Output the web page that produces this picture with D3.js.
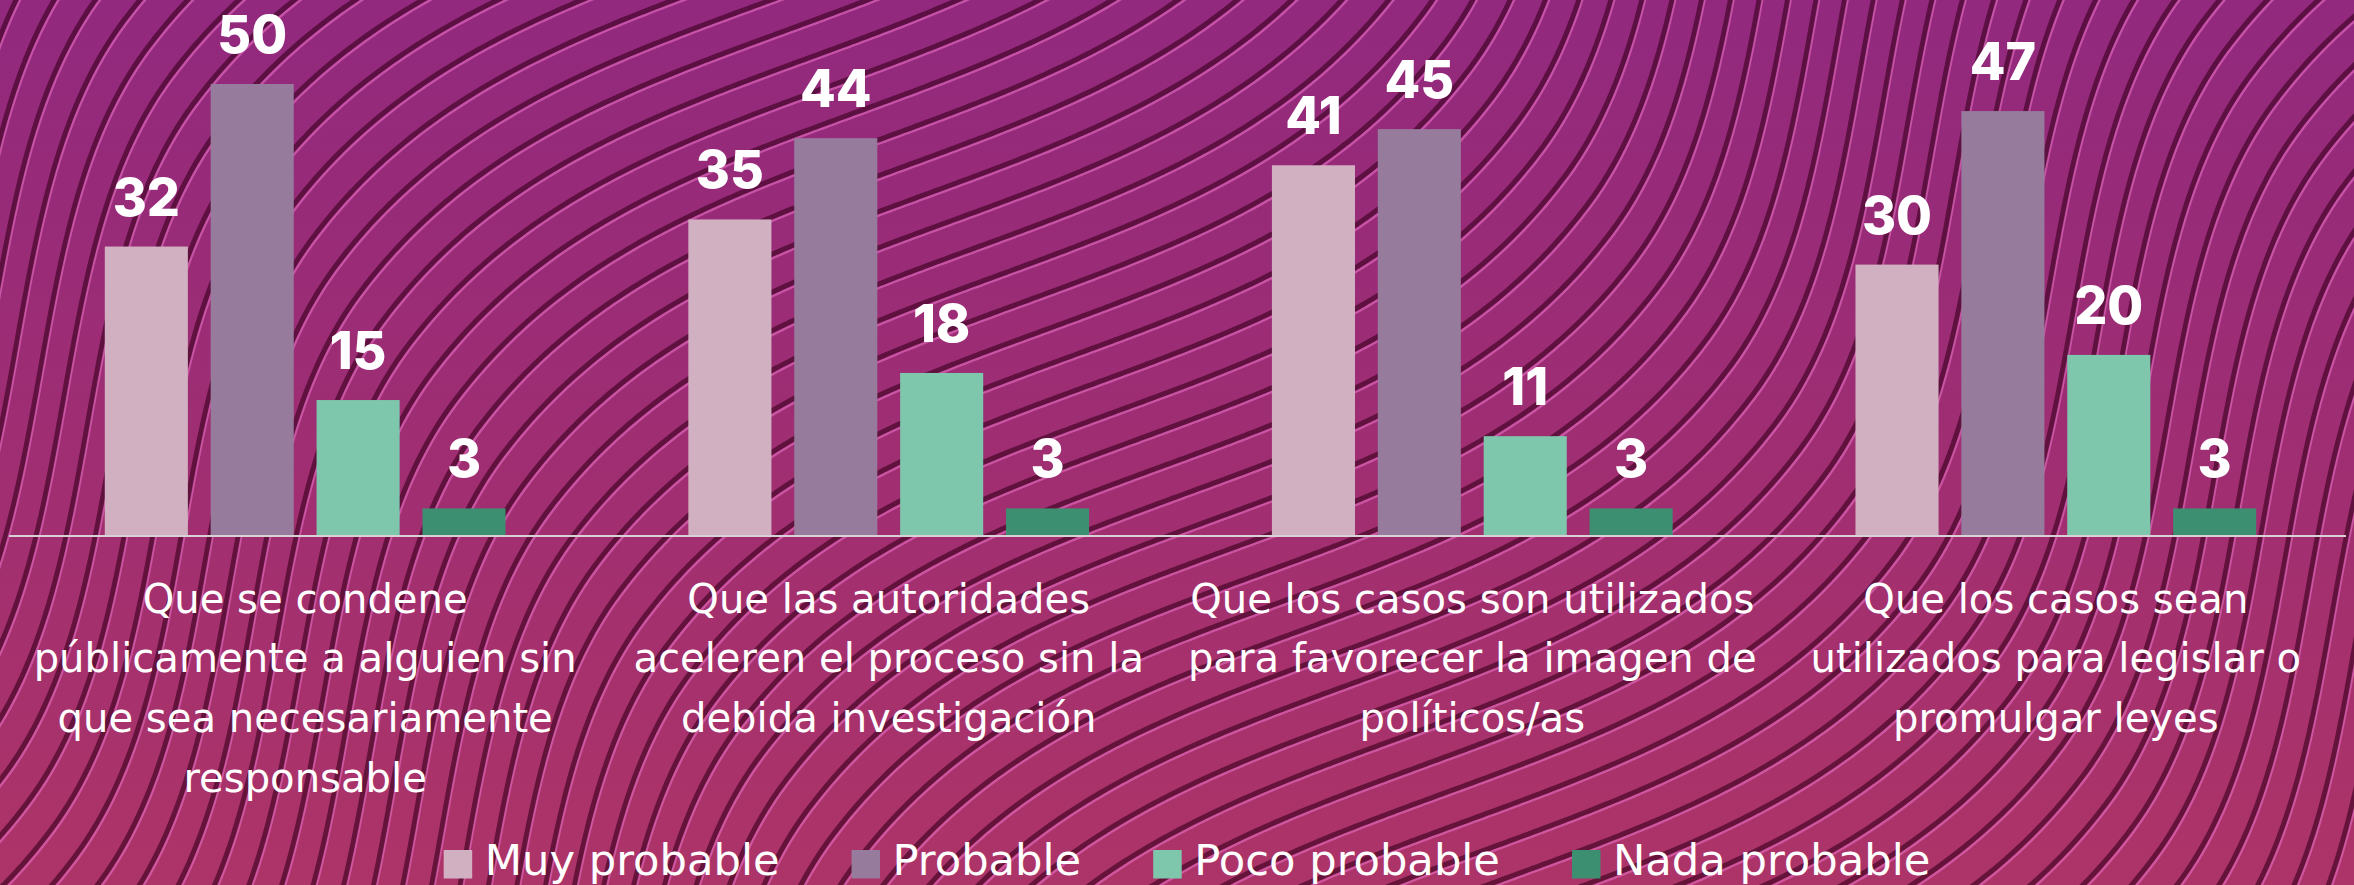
<!DOCTYPE html>
<html>
<head>
<meta charset="utf-8">
<script src="https://cdn.jsdelivr.net/npm/d3@7"></script>
<style>
  html, body { margin: 0; padding: 0; background: #9e2d73; overflow: hidden; }
  svg { display: block; }
</style>
</head>
<body>
<svg id="chart" width="2354" height="885"></svg>
<script>
// ---------------- data ----------------
const categories = [
  "Que se condene públicamente a alguien sin que sea necesariamente responsable",
  "Que las autoridades aceleren el proceso sin la debida investigación",
  "Que los casos son utilizados para favorecer la imagen de políticos/as",
  "Que los casos sean utilizados para legislar o promulgar leyes"
];
const categoryLines = [
  ["Que se condene", "públicamente a alguien sin", "que sea necesariamente", "responsable"],
  ["Que las autoridades", "aceleren el proceso sin la", "debida investigación"],
  ["Que los casos son utilizados", "para favorecer la imagen de", "políticos/as"],
  ["Que los casos sean", "utilizados para legislar o", "promulgar leyes"]
];
const seriesNames = ["Muy probable", "Probable", "Poco probable", "Nada probable"];
const muyProbable  = [32, 35, 41, 30];
const probable     = [50, 44, 45, 47];
const pocoProbable = [15, 18, 11, 20];
const nadaProbable = [3, 3, 3, 3];
const seriesColors = ["#d1b1c1", "#977b9c", "#7ec7ad", "#3d8f72"];

const seriesValues = [muyProbable, probable, pocoProbable, nadaProbable];
const table = categories.map((c, i) => ({
  category: c,
  values: seriesNames.map((s, j) => ({ series: s, value: seriesValues[j][i] }))
}));

// ---------------- setup ----------------
const W = 2354, H = 885;
const FONT = "'DejaVu Sans', 'Noto Sans', sans-serif";
const svg = d3.select("#chart");
const defs = svg.append("defs");

const grad = defs.append("linearGradient").attr("id", "bg")
  .attr("x1", 0).attr("y1", 0).attr("x2", 0).attr("y2", 1);
grad.append("stop").attr("offset", "0%").attr("stop-color", "#92297e");
grad.append("stop").attr("offset", "55%").attr("stop-color", "#a02e71");
grad.append("stop").attr("offset", "100%").attr("stop-color", "#ad3468");
svg.append("rect").attr("width", W).attr("height", H).attr("fill", "url(#bg)");

// ---------------- decorative wavy background lines ----------------
(function drawWaves() {
  const tp = [0.756, -0.655];   // across the bands (up-right)
  const t  = [0.655, 0.756];    // along the bands (down-right)
  const period = 1571, pA = 78, pB = 1063;
  const m = -0.215, K = 0.595;
  function theta(p) {
    let r = ((p - pA) % period + period) % period;
    const shallow = pB - pA;
    if (r < shallow) return -Math.PI / 2 + Math.PI * r / shallow;
    return Math.PI / 2 + Math.PI * (r - shallow) / (period - shallow);
  }
  const pMin = -900, pMax = 2100, step = 5;
  const G = [];
  let acc = 0;
  for (let p = pMin; p <= pMax; p += step) {
    G.push([p, acc]);
    acc += (m + K * Math.cos(theta(p))) * step;
  }
  const line = d3.line().curve(d3.curveLinear);
  const gWave = svg.append("g");
  const paths = [];
  for (let c = -1400; c <= 3400; c += 36) {
    const pts = G.map(([p, g]) => {
      const q = c + g;
      return [p * tp[0] + q * t[0], p * tp[1] + q * t[1]];
    }).filter(([x, y]) => x > -80 && x < W + 80 && y > -80 && y < H + 80);
    if (pts.length > 1) paths.push(line(pts));
  }
  gWave.selectAll("path.hl").data(paths).join("path").attr("class", "hl")
    .attr("d", d => d).attr("fill", "none")
    .attr("stroke", "rgba(230,110,195,0.6)").attr("stroke-width", 2.4)
    .attr("transform", "translate(2.6,3.0)");
  gWave.selectAll("path.dk").data(paths).join("path").attr("class", "dk")
    .attr("d", d => d).attr("fill", "none")
    .attr("stroke", "rgba(58,0,30,0.62)").attr("stroke-width", 5);
})();

// ---------------- scales ----------------
const baseY = 535.5;
const x0 = d3.scaleBand().domain(categories).range([12, 2349])
  .paddingInner(0.3133).paddingOuter(0.159);
const x1 = d3.scaleBand().domain(seriesNames).range([0, x0.bandwidth()])
  .paddingInner(0.2155).paddingOuter(0);
const y = d3.scaleLinear().domain([0, 50]).range([baseY, baseY - 451.5]);
const color = d3.scaleOrdinal().domain(seriesNames).range(seriesColors);

// ---------------- bars ----------------
const groups = svg.append("g").selectAll("g").data(table).join("g")
  .attr("transform", d => `translate(${x0(d.category)},0)`);

groups.selectAll("rect").data(d => d.values).join("rect")
  .attr("x", d => x1(d.series))
  .attr("y", d => y(d.value))
  .attr("width", x1.bandwidth())
  .attr("height", d => baseY - y(d.value))
  .attr("fill", d => color(d.series));

groups.selectAll("text.val").data(d => d.values).join("text").attr("class", "val")
  .attr("x", d => x1(d.series) + x1.bandwidth() / 2)
  .attr("y", d => y(d.value) - 31)
  .attr("text-anchor", "middle")
  .attr("font-family", "Inter, 'Open Sans', sans-serif")
  .attr("font-weight", 800)
  .attr("font-size", 52)
  .attr("fill", "#ffffff")
  .text(d => d.value);

// ---------------- axis line ----------------
const xAxis = d3.axisBottom(x0).tickSize(0).tickFormat("");
const axisG = svg.append("g").attr("transform", `translate(0,${baseY + 0.5})`).call(xAxis);
axisG.select(".domain").attr("stroke", "#d8d2d6").attr("stroke-width", 2)
  .attr("d", "M9,0H2346");

// ---------------- helper: fit font size to a reference width ----------------
function fitSize(text, targetWidth, base) {
  const probe = svg.append("text").attr("font-family", FONT).attr("font-size", base).text(text);
  const w = probe.node().getComputedTextLength();
  probe.remove();
  return base * targetWidth / w;
}

// ---------------- category labels ----------------
const labelSize = fitSize("públicamente a alguien sin", 543, 36);
const labelG = svg.append("g");
table.forEach((d, i) => {
  const cx = x0(d.category) + x0.bandwidth() / 2;
  const tx = labelG.append("text")
    .attr("text-anchor", "middle")
    .attr("font-family", FONT)
    .attr("font-size", labelSize)
    .attr("fill", "#ffffff");
  categoryLines[i].forEach((ln, k) => {
    tx.append("tspan").attr("x", cx).attr("y", 612.5 + k * 59.7).text(ln);
  });
});

// ---------------- legend ----------------
const legendSize = fitSize("Muy probable", 295, 36);
const legend = svg.append("g");
const sq = 28.5, gapText = 12.5, gapItem = 72, legendCenter = 1187, legendBase = 875;
const items = seriesNames.map(s => {
  const tEl = legend.append("text")
    .attr("font-family", FONT)
    .attr("font-size", legendSize)
    .attr("fill", "#ffffff")
    .attr("y", legendBase)
    .text(s);
  return { s, tEl, w: tEl.node().getComputedTextLength() };
});
const total = d3.sum(items, it => sq + gapText + it.w) + gapItem * (items.length - 1);
let cursor = legendCenter - total / 2;
items.forEach(it => {
  legend.append("rect").attr("x", cursor).attr("y", 850).attr("width", sq).attr("height", sq)
    .attr("fill", color(it.s));
  it.tEl.attr("x", cursor + sq + gapText);
  cursor += sq + gapText + it.w + gapItem;
});
</script>
</body>
</html>
